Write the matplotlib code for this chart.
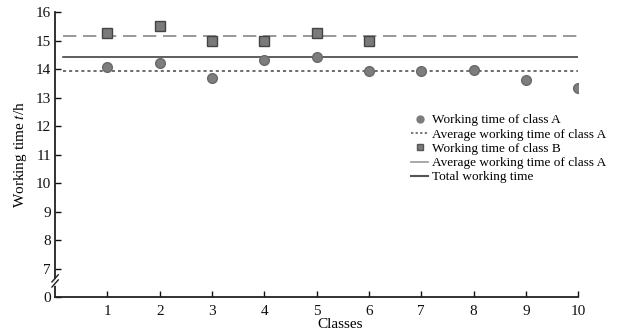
import matplotlib
matplotlib.use("Agg")
import matplotlib.pyplot as plt
from matplotlib.lines import Line2D

plt.rcParams['font.family'] = ['Liberation Serif', 'DejaVu Serif']
plt.rcParams['mathtext.fontset'] = 'stix'

classes_a = [1, 2, 3, 4, 5, 6, 7, 8, 9, 10]
time_a = [14.07, 14.2, 13.67, 14.33, 14.43, 13.92, 13.92, 13.97, 13.6, 13.33]
classes_b = [1, 2, 3, 4, 5, 6]
time_b = [15.25, 15.5, 15.0, 15.0, 15.25, 15.0]
avg_a = 13.95
avg_b = 15.17
total_avg = 14.43
ytick_vals = [6, 7, 8, 9, 10, 11, 12, 13, 14, 15, 16]
ytick_labels = ['0', '7', '8', '9', '10', '11', '12', '13', '14', '15', '16']

fig = plt.figure(figsize=(6.19, 3.36), dpi=100)
ax = fig.add_axes([0.089, 0.116, 0.845, 0.848])

line_x = [0.15, 10.0]
ax.plot(line_x, [avg_a, avg_a], linestyle=(0, (2, 2)), color='#444444', lw=1.1, zorder=2)
ax.plot(line_x, [avg_b, avg_b], linestyle=(0, (8, 4)), color='#888888', lw=1.2, zorder=2)
ax.plot(line_x, [total_avg, total_avg], linestyle='-', color='#333333', lw=1.1, zorder=2)
ax.plot(classes_a, time_a, 'o', color='#7d7d7d', markeredgecolor='#6a6a6a', markersize=7, zorder=3)
ax.plot(classes_b, time_b, 's', color='#7a7a7a', markeredgecolor='#444444', markersize=7, zorder=3)

ax.set_xlim(0, 10)
ax.set_ylim(6, 16)
ax.set_xticks(range(1, 11))
ax.set_yticks(ytick_vals)
ax.set_yticklabels(ytick_labels)
ax.tick_params(direction='in', length=4, width=1, labelsize=11, colors='#111111')
ax.tick_params(axis='x', pad=6)
ax.tick_params(axis='y', pad=3)
for s in ['top', 'right']:
    ax.spines[s].set_visible(False)
for s in ['left', 'bottom']:
    ax.spines[s].set_linewidth(1.3)
    ax.spines[s].set_color('#222222')

ax.set_xlabel('Classes', fontsize=11)
ax.xaxis.set_label_coords(0.545, -0.072)
ax.set_ylabel('Working time $t$/h', fontsize=11, labelpad=5)

# axis break mark
for dy in (0.0, 0.18):
    ax.plot([-0.06, 0.06], [6.35 + dy, 6.6 + dy], color='#222222', lw=1, clip_on=False, zorder=5)
ax.plot([0, 0], [6.45, 6.6], color='white', lw=2, clip_on=False, zorder=4)

handles = [
    Line2D([], [], marker='o', linestyle='none', color='#7d7d7d', markersize=5),
    Line2D([], [], linestyle=(0, (1.5, 1.5)), color='#555555', lw=1.1),
    Line2D([], [], marker='s', linestyle='none', color='#7a7a7a', markeredgecolor='#555555', markersize=5),
    Line2D([], [], linestyle='-', color='#999999', lw=1.2),
    Line2D([], [], linestyle='-', color='#555555', lw=1.5),
]
labels = ['Working time of class A', 'Average working time of class A',
          'Working time of class B', 'Average working time of class A',
          'Total working time']
ax.legend(handles, labels, loc='upper left', bbox_to_anchor=(0.671, 0.66),
          frameon=False, fontsize=9.5, handlelength=1.3, handletextpad=0.3,
          labelspacing=0.15, borderaxespad=0)

fig.savefig('out.png', dpi=100)
